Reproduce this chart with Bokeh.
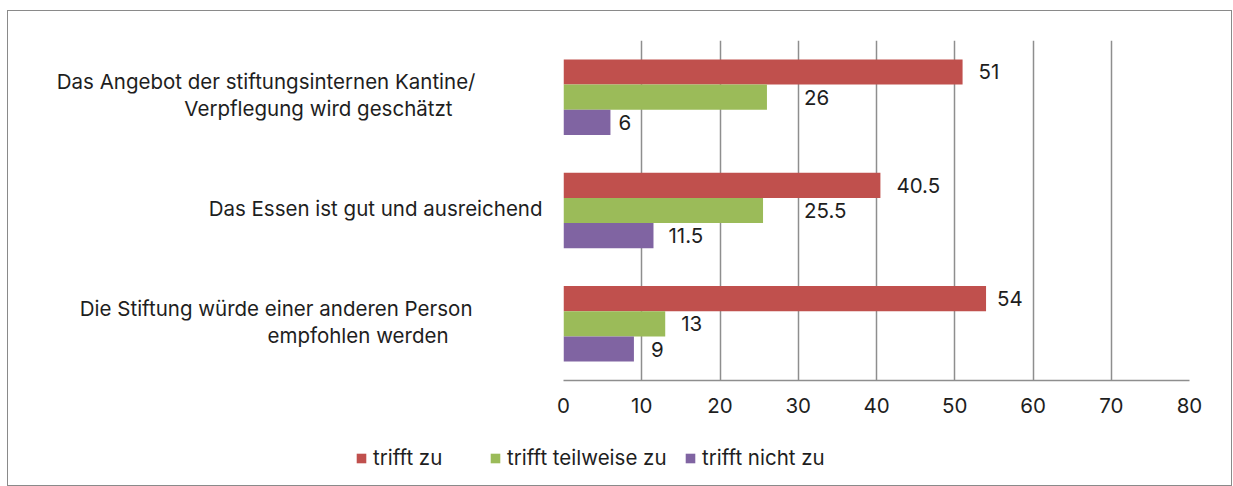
from bokeh.plotting import figure
from bokeh.models import Range1d, ColumnDataSource, Legend, LegendItem
from bokeh.layouts import column, row
from bokeh.embed import file_html
from bokeh.resources import INLINE
from bokeh.core.properties import value

# ---- data ----
categories = [
    ["Das Angebot der stiftungsinternen Kantine/", "Verpflegung wird geschätzt"],
    ["Das Essen ist gut und ausreichend"],
    ["Die Stiftung würde einer anderen Person", "empfohlen werden"],
]
series_names = ["trifft zu", "trifft teilweise zu", "trifft nicht zu"]
trifft_zu = [51, 40.5, 54]
trifft_teilweise_zu = [26, 25.5, 13]
trifft_nicht_zu = [6, 11.5, 9]
x_ticks = [0, 10, 20, 30, 40, 50, 60, 70, 80]

# ---- styles ----
colors = ["#C0504D", "#9BBB59", "#8064A2"]
label_dx = [[16, 16, 11], [37, 41, 16], [8, 15, 17]]        # px offsets of value labels
cat_line_dx = [[-88, -111], [-21], [-91, -115]]            # px: right edge of category lines
cat_line_dy = [[-16.0, 11.5], [-2.5], [-15.3, 11.7]]       # px: baseline below category centre
legend_x = [347, 481, 676]                                 # px: left of each legend swatch
FONT = "Inter"
TXT = "#1e1e1e"
GRID = "#8e8e8e"
FS = "20.5px"

TOTAL_W, TOTAL_H = 1223, 474
FRAME_W, FRAME_H = 626, 340
TOP, BOTTOM = 29, 50
LAB_W = 540
GAP = 15
MAIN_W = TOTAL_W - LAB_W
TOP_H = TOP + FRAME_H + BOTTOM
LEG_H = TOTAL_H - TOP_H

n = len(categories)
bar_h = 0.2222
series = [trifft_zu, trifft_teilweise_zu, trifft_nicht_zu]
offsets = [bar_h, 0.0, -bar_h]
yr = Range1d(0, n)
px_per_unit = FRAME_H / n
centers = [n - i - 0.5 for i in range(n)]

# ---- main plot ----
p = figure(width=MAIN_W, height=TOP_H, output_backend="svg", toolbar_location=None,
           x_range=Range1d(0, 80), y_range=yr, y_axis_location=None,
           min_border_left=GAP, min_border_right=MAIN_W - GAP - FRAME_W,
           min_border_top=TOP, min_border_bottom=BOTTOM)
p.outline_line_color = None
p.xaxis.ticker = x_ticks
p.xaxis.axis_line_color = GRID
p.xaxis.axis_line_width = 1.5
p.xaxis.major_tick_out = 0
p.xaxis.major_tick_in = 0
p.xaxis.minor_tick_line_color = None
p.xaxis.major_label_text_font = FONT
p.xaxis.major_label_text_font_size = FS
p.xaxis.major_label_text_color = TXT
p.xaxis.major_label_standoff = 17
p.xgrid.grid_line_color = GRID
p.xgrid.grid_line_width = 1.5
p.ygrid.grid_line_color = None

for j, vals in enumerate(series):
    ys = [c + offsets[j] for c in centers]
    src = ColumnDataSource(dict(y=ys, right=vals, txt=[f"{v:g}" for v in vals], dx=label_dx[j]))
    p.hbar(y="y", left=0, right="right", height=bar_h, source=src,
           fill_color=colors[j], line_color=None)
    p.text(x="right", y="y", text="txt", x_offset="dx", source=src,
           text_font=value(FONT), text_font_size=FS, text_color=TXT,
           text_baseline="middle", text_align="left")

# ---- category label panel ----
pl = figure(width=LAB_W, height=TOP_H, output_backend="svg", toolbar_location=None,
            x_range=Range1d(-(LAB_W + GAP), -GAP), y_range=yr,
            x_axis_location=None, y_axis_location=None,
            min_border_left=0, min_border_right=0, min_border_top=TOP, min_border_bottom=BOTTOM)
pl.outline_line_color = None
pl.grid.visible = False
lx, ly, lt = [], [], []
for i, lines in enumerate(categories):
    for k, line in enumerate(lines):
        lx.append(cat_line_dx[i][k])
        ly.append(centers[i] - cat_line_dy[i][k] / px_per_unit)
        lt.append(line)
pl.text(x=lx, y=ly, text=lt, text_align="right", text_baseline="alphabetic",
        text_font=value(FONT), text_font_size=FS, text_color=TXT)

# ---- legend panel ----
pg = figure(width=TOTAL_W, height=LEG_H, output_backend="svg", toolbar_location=None,
            x_range=Range1d(0, 1), y_range=Range1d(0, 1),
            x_axis_location=None, y_axis_location=None, min_border=0)
pg.outline_line_color = None
pg.grid.visible = False
for j in range(3):
    # zero-size placeholder glyph: only its legend swatch is shown
    r = pg.hbar(y=[0], left=[0], right=[0], height=0, fill_color=colors[j], line_color=None)
    lg = Legend(items=[LegendItem(label=series_names[j], renderers=[r])],
                orientation="horizontal", location=(legend_x[j], 15))
    lg.glyph_width = 12
    lg.glyph_height = 12
    lg.label_standoff = 6
    lg.padding = 0
    lg.margin = 0
    lg.border_line_color = None
    lg.background_fill_alpha = 0
    lg.label_text_font = FONT
    lg.label_text_font_size = FS
    lg.label_text_color = TXT
    pg.add_layout(lg, "center")

layout = column(row(pl, p, spacing=0), pg, spacing=0)
layout.styles = {"border": "1px solid #8a8a8a", "margin-left": "7px", "margin-top": "10px"}

open("out.html", "w").write(file_html(layout, INLINE))
